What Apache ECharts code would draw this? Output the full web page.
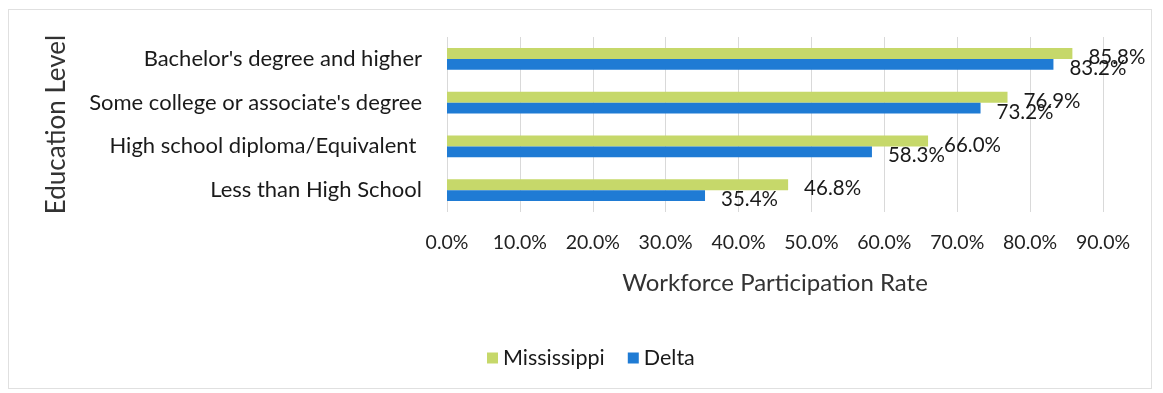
<!DOCTYPE html>
<html><head><meta charset="utf-8">
<script src="https://cdn.jsdelivr.net/npm/echarts@6/dist/echarts.min.js"></script>
<style>
html,body{margin:0;padding:0;background:#fff;}
#frame{position:absolute;left:8px;top:9px;width:1142px;height:378px;border:1px solid #e0e0e0;}
#c{position:absolute;left:0;top:0;width:1163px;height:393px;}
</style></head>
<body>
<div id="frame"></div>
<div id="c"></div>
<script>
const categories = ["Bachelor's degree and higher", "Some college or associate's degree", "High school diploma/Equivalent ", "Less than High School"];
const mississippi = [85.8, 76.9, 66.0, 46.8];
const delta = [83.2, 73.2, 58.3, 35.4];
const seriesNames = ["Mississippi", "Delta"];

const FONT = 'Lato';
const chart = echarts.init(document.getElementById('c'));
const lbl = {
  show: true, position: 'right', distance: 16, offset: [0, 4],
  formatter: p => p.value.toFixed(1) + '%',
  fontFamily: FONT, fontSize: 20.5, color: '#1a1a1a'
};
chart.setOption({
  backgroundColor: 'transparent',
  animation: false,
  grid: { left: 447, right: 60, top: 37, height: 175 },
  legend: {
    left: 482, top: 342, itemWidth: 11, itemHeight: 11, itemGap: 23,
    icon: 'rect',
    textStyle: { fontFamily: FONT, fontSize: 21.5, color: '#1a1a1a' },
    data: seriesNames
  },
  xAxis: {
    type: 'value', min: 0, max: 90, interval: 10,
    name: 'Workforce Participation Rate', nameLocation: 'middle', nameGap: 59,
    nameTextStyle: { fontFamily: FONT, fontSize: 24, color: '#333' },
    axisLabel: { formatter: v => v.toFixed(1) + '%', margin: 21, fontFamily: FONT, fontSize: 19.5, color: '#222' },
    axisLine: { show: false }, axisTick: { show: false },
    splitLine: { lineStyle: { color: '#d9d9d9', width: 1 } }
  },
  yAxis: {
    type: 'category', inverse: true, data: categories,
    name: 'Education Level', nameLocation: 'middle', nameGap: 377, nameRotate: 90,
    nameTextStyle: { fontFamily: FONT, fontSize: 26, color: '#333' },
    axisLabel: { margin: 25, fontFamily: FONT, fontSize: 22, color: '#1a1a1a' },
    axisLine: { show: false }, axisTick: { show: false }
  },
  series: [
    { name: seriesNames[0], type: 'bar', data: mississippi, barGap: '0%', barCategoryGap: '50%',
      itemStyle: { color: '#c6d86a' }, label: lbl },
    { name: seriesNames[1], type: 'bar', data: delta, barGap: '0%', barCategoryGap: '50%',
      itemStyle: { color: '#1f7bd4' }, label: lbl }
  ]
});
</script>
</body></html>
